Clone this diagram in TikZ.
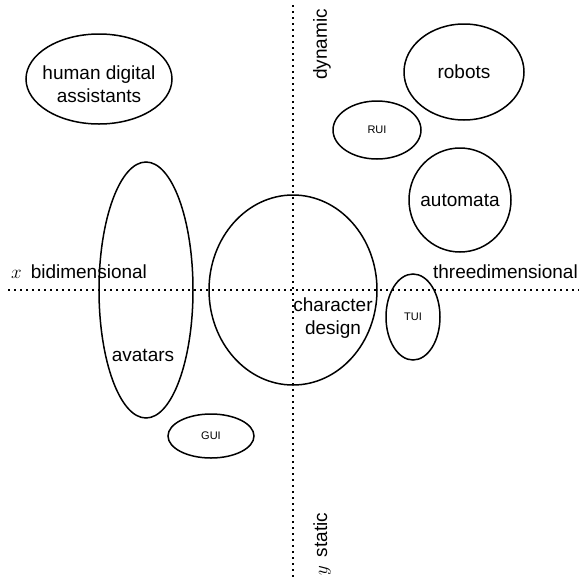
\documentclass[tikz,border=0pt]{standalone}
\usepackage{fix-cm}
\usepackage{fontspec}
\setmainfont{Liberation Sans}
\usetikzlibrary{shapes.geometric}

\begin{document}
\begin{tikzpicture}[x=1pt, y=-1pt,
      blob/.style={draw, ellipse, line width=1.5pt, inner sep=0pt},
      txt/.style={font=\fontsize{19}{23}\selectfont, align=center, inner sep=0pt},
      small/.style={font=\fontsize{11}{13}\selectfont, inner sep=0pt},
      axis/.style={line width=1.6pt, dash pattern=on 1.6pt off 4.4pt}
    ]
      \useasboundingbox (0,0) rectangle (581,579);

      % axes
      \coordinate (xl) at (8,290);
      \coordinate (xr) at (579,290);
      \coordinate (yt) at (293,5);
      \coordinate (yb) at (293,579);
      \draw[axis] (xl) -- (xr);
      \draw[axis] (yt) -- (yb);
      \node[txt, anchor=west] (xlab) at (11,272) {$x$\hspace{9pt}bidimensional};
      \node[txt, anchor=east] (xrlab) at (578,272) {threedimensional};
      \node[txt, rotate=90, anchor=east] (ytlab) at (322,9) {dynamic};
      \node[txt, rotate=90, anchor=west] (yblab) at (322,576) {$y$\hspace{9pt}static};

      % regions
      \node[blob, minimum width=146pt, minimum height=90pt] (hda) at (99,79) {};
      \node[txt] at ([yshift=-5pt]hda) {human digital\\assistants};
      \node[blob, minimum width=120pt, minimum height=96pt] (rob) at (464,72) {};
      \node[txt] at (rob) {robots};
      \node[blob, minimum width=88pt, minimum height=58pt] (rui) at (377,130) {};
      \node[small] at (rui) {RUI};
      \node[blob, minimum width=102pt, minimum height=104pt] (aut) at (460,200) {};
      \node[txt] at (aut) {automata};
      \node[blob, minimum width=94pt, minimum height=256pt] (ava) at (146,290) {};
      \node[txt] (avalab) at (143,355) {avatars};
      \node[blob, minimum width=168pt, minimum height=190pt] (chr) at (293,290) {};
      \node[txt] (chrlab) at (333,318) {character\\design};
      \node[blob, minimum width=54pt, minimum height=86pt] (tui) at (413,317) {};
      \node[small] at (tui) {TUI};
      \node[blob, minimum width=86pt, minimum height=44pt] (gui) at (211,436) {};
      \node[small] at (gui) {GUI};
    \end{tikzpicture}
\end{document}
